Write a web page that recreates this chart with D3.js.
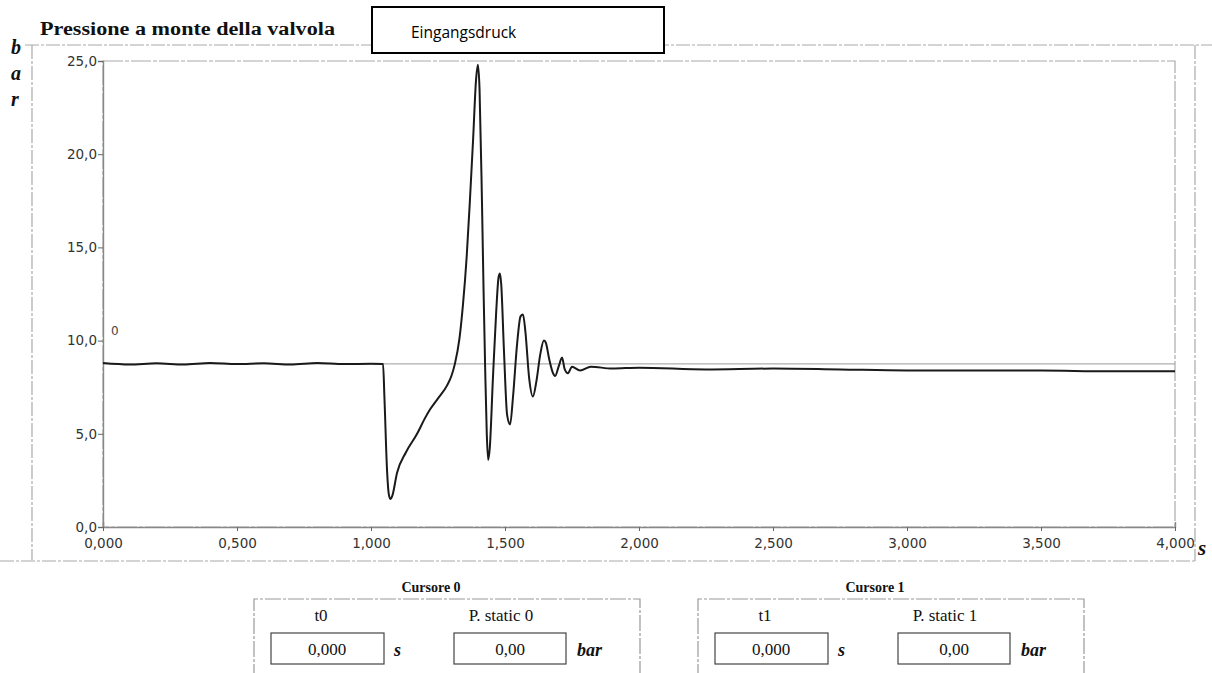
<!DOCTYPE html>
<html>
<head>
<meta charset="utf-8">
<script src="https://cdn.jsdelivr.net/npm/d3@7"></script>
<style>
  body { margin: 0; background: #fff; }
  svg { display: block; }
</style>
</head>
<body>
<script>
// dati (tempo in s, pressione in bar)
var times = [0.000, 0.100, 0.200, 0.300, 0.400, 0.500, 0.600, 0.700, 0.800, 0.900, 1.000, 1.045, 1.050, 1.060, 1.066, 1.072, 1.080,
  1.097, 1.130, 1.172, 1.200, 1.220, 1.250, 1.284, 1.300, 1.313, 1.330, 1.343, 1.357, 1.369, 1.381, 1.392,
  1.399, 1.405, 1.414, 1.420, 1.426, 1.432, 1.437, 1.443, 1.455, 1.467, 1.476, 1.481, 1.486, 1.496,
  1.508, 1.519, 1.530, 1.545, 1.558, 1.567, 1.576, 1.590, 1.604, 1.617, 1.632, 1.645, 1.652, 1.665,
  1.678, 1.687, 1.700, 1.713, 1.722, 1.735, 1.750, 1.780, 1.820, 1.900, 2.000, 2.250, 2.500, 2.750, 3.000,
  3.250, 3.500, 3.750, 4.000];
var pressure = [8.80, 8.72, 8.78, 8.72, 8.80, 8.74, 8.78, 8.72, 8.80, 8.74, 8.76, 8.75, 7.0, 3.0, 1.8, 1.5, 1.7,
  2.9, 4.0, 5.0, 5.8, 6.3, 6.9, 7.6, 8.1, 8.75, 10.1, 11.9, 14.5, 17.5, 20.8, 24.0,
  24.8, 23.5, 17.5, 12.7, 8.5, 5.0, 3.6, 4.2, 8.0, 11.5, 13.4, 13.6, 13.0, 9.5,
  6.0, 5.5, 7.0, 9.8, 11.3, 11.4, 10.5, 8.0, 7.0, 7.8, 9.3, 10.0, 9.9, 9.0,
  8.3, 8.1, 8.6, 9.1, 8.5, 8.25, 8.6, 8.4, 8.6, 8.5, 8.55, 8.45, 8.5, 8.45, 8.4,
  8.4, 8.4, 8.35, 8.35];
var cursorLevel = 8.75;
var xTicks = [0, 0.5, 1, 1.5, 2, 2.5, 3, 3.5, 4];
var yTicks = [0, 5, 10, 15, 20, 25];
var cursors = [
  { title: "Cursore 0", tLabel: "t0", pLabel: "P. static 0", tVal: "0,000", pVal: "0,00", x: 253 },
  { title: "Cursore 1", tLabel: "t1", pLabel: "P. static 1", tVal: "0,000", pVal: "0,00", x: 697 }
];

var W = 1212, H = 673;
var margin = { left: 103, right: 1175, top: 61, bottom: 527 };

var svg = d3.select("body").append("svg").attr("width", W).attr("height", H);

var x = d3.scaleLinear().domain([0, 4]).range([margin.left, margin.right]);
var y = d3.scaleLinear().domain([0, 25]).range([margin.bottom, margin.top]);

// cornice tratteggiata intorno al grafico
svg.append("path")
  .attr("d", "M25,45 H1212 M32,45 V560 M0,561 H1195 M1195,45 V561")
  .attr("fill", "none").attr("stroke", "#aaa").attr("stroke-width", 1.2)
  .attr("stroke-dasharray", "14,2,3,2");

// titolo
svg.append("text")
  .attr("x", 40).attr("y", 35)
  .attr("font-family", "Liberation Serif").attr("font-weight", "bold").attr("font-size", 18)
  .attr("textLength", 295).attr("lengthAdjust", "spacingAndGlyphs")
  .attr("fill", "#111")
  .text("Pressione a monte della valvola");

// riquadro Eingangsdruck
svg.append("rect").attr("x", 372).attr("y", 7).attr("width", 292).attr("height", 46)
  .attr("fill", "#fff").attr("stroke", "#000").attr("stroke-width", 2);
svg.append("text").attr("x", 411).attr("y", 38)
  .attr("font-family", "Open Sans").attr("font-size", 15.5).attr("fill", "#000")
  .text("Eingangsdruck");

// etichetta asse y verticale
["b", "a", "r"].forEach(function(c, i) {
  svg.append("text").attr("x", 11).attr("y", 54 + i * 26)
    .attr("font-family", "Liberation Serif").attr("font-weight", "bold").attr("font-style", "italic")
    .attr("font-size", 20).attr("fill", "#111").text(c);
});

// bordo dell'area del grafico
svg.append("rect")
  .attr("x", margin.left).attr("y", margin.top)
  .attr("width", margin.right - margin.left).attr("height", margin.bottom - margin.top)
  .attr("fill", "none").attr("stroke", "#aaa").attr("stroke-width", 1.2)
  .attr("stroke-dasharray", "20,2,4,2");

// assi
var fmtY = function(d) { return d3.format(".1f")(d).replace(".", ","); };
var fmtX = function(d) { return d3.format(".3f")(d).replace(".", ","); };

var gy = svg.append("g").attr("transform", "translate(" + margin.left + ",0)")
  .call(d3.axisLeft(y).tickValues(yTicks).tickFormat(fmtY).tickSize(5).tickPadding(1));
var gx = svg.append("g").attr("transform", "translate(0," + margin.bottom + ")")
  .call(d3.axisBottom(x).tickValues(xTicks).tickFormat(fmtX).tickSize(-5).tickPadding(10));

[gx, gy].forEach(function(g) {
  g.select(".domain").attr("stroke", "#888").attr("stroke-width", 1.4);
  g.selectAll(".tick line").attr("stroke", "#666");
  g.selectAll(".tick text").attr("font-family", "DejaVu Sans").attr("font-size", 13.5).attr("fill", "#333");
});
gx.selectAll(".tick line").attr("y2", 4);
gx.selectAll(".tick text").attr("dy", "0.85em");

svg.append("text").attr("x", 1198).attr("y", 555)
  .attr("font-family", "Liberation Serif").attr("font-weight", "bold").attr("font-style", "italic")
  .attr("font-size", 21).attr("fill", "#111").text("s");

// linea del cursore
svg.append("line")
  .attr("x1", x(0)).attr("x2", x(4)).attr("y1", y(cursorLevel)).attr("y2", y(cursorLevel))
  .attr("stroke", "#999").attr("stroke-width", 1);
svg.append("text").attr("x", x(0.03)).attr("y", y(10.3))
  .attr("font-family", "DejaVu Sans").attr("font-size", 12).attr("fill", "#444").text("0");

// curva della pressione
var data = times.map(function(t, i) { return { t: t, p: pressure[i] }; });
var line = d3.line()
  .x(function(d) { return x(d.t); })
  .y(function(d) { return y(d.p); })
  .curve(d3.curveMonotoneX);
svg.append("path").datum(data)
  .attr("d", line)
  .attr("fill", "none").attr("stroke", "#1a1a1a").attr("stroke-width", 2)
  .attr("stroke-linejoin", "round");

// pannelli dei cursori
cursors.forEach(function(c) {
  var g = svg.append("g").attr("transform", "translate(" + c.x + ",0)");
  g.append("text").attr("x", 178).attr("y", 592).attr("text-anchor", "middle")
    .attr("font-family", "Liberation Serif").attr("font-weight", "bold").attr("font-size", 14)
    .attr("fill", "#111").text(c.title);
  g.append("path").attr("d", "M1,680 V599 H387 V680")
    .attr("fill", "none").attr("stroke", "#999").attr("stroke-width", 1.2)
    .attr("stroke-dasharray", "16,2,3,2");
  g.append("text").attr("x", 68).attr("y", 621).attr("text-anchor", "middle")
    .attr("font-family", "Liberation Serif").attr("font-size", 17).attr("fill", "#111").text(c.tLabel);
  g.append("text").attr("x", 248).attr("y", 621).attr("text-anchor", "middle")
    .attr("font-family", "Liberation Serif").attr("font-size", 17).attr("fill", "#111").text(c.pLabel);
  g.append("rect").attr("x", 18).attr("y", 633).attr("width", 113).attr("height", 31)
    .attr("fill", "#fff").attr("stroke", "#444").attr("stroke-width", 1.2);
  g.append("rect").attr("x", 201).attr("y", 633).attr("width", 112).attr("height", 31)
    .attr("fill", "#fff").attr("stroke", "#444").attr("stroke-width", 1.2);
  g.append("text").attr("x", 74).attr("y", 655).attr("text-anchor", "middle")
    .attr("font-family", "Liberation Serif").attr("font-size", 17).attr("fill", "#111").text(c.tVal);
  g.append("text").attr("x", 257).attr("y", 655).attr("text-anchor", "middle")
    .attr("font-family", "Liberation Serif").attr("font-size", 17).attr("fill", "#111").text(c.pVal);
  g.append("text").attr("x", 141).attr("y", 656)
    .attr("font-family", "Liberation Serif").attr("font-weight", "bold").attr("font-style", "italic")
    .attr("font-size", 18).attr("fill", "#111").text("s");
  g.append("text").attr("x", 324).attr("y", 656)
    .attr("font-family", "Liberation Serif").attr("font-weight", "bold").attr("font-style", "italic")
    .attr("font-size", 18).attr("fill", "#111").text("bar");
});
</script>
</body>
</html>
